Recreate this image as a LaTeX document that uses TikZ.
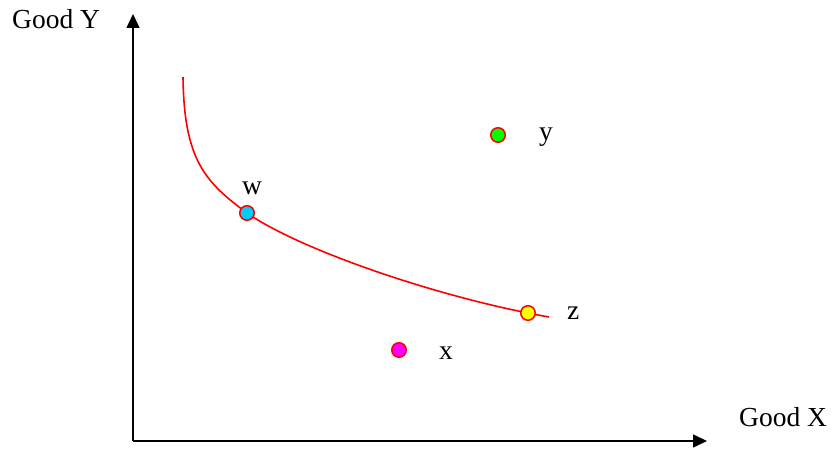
\documentclass[tikz,border=0pt]{standalone}
\usepackage{fontspec}
\setmainfont{Liberation Serif}
\usetikzlibrary{arrows.meta,positioning}

\definecolor{wblue}{RGB}{0,204,255}
\definecolor{ygreen}{RGB}{0,255,0}
\definecolor{zyellow}{RGB}{255,255,0}
\definecolor{xpink}{RGB}{255,0,255}

\begin{document}
\begin{tikzpicture}[
    x=1pt, y=1pt,
    axis/.style={-{Triangle[length=14pt, width=13pt]}, line width=1.5pt},
    dot/.style={draw=red, circle, line width=1.5pt, minimum size=14.5pt, inner sep=0pt},
    lbl/.style={inner sep=0pt, font=\fontsize{27.5}{33}\selectfont},
    curve/.style={red, line width=1.6pt}
]
\useasboundingbox (0,0) rectangle (835,450);

\coordinate (o) at (133,9);
\coordinate (ytip) at (133,436);
\coordinate (xtip) at (707,9);

\draw[axis] (o) -- (ytip);
\draw[axis] (o) -- (xtip);

\node[lbl, anchor=west] (goody) at (12,431) {Good Y};
\node[lbl, anchor=west] (goodx) at (739,33) {Good X};

% indifference curve
\coordinate (cstart) at (183,373);
\coordinate (cend) at (549,133);
\draw[curve] (cstart) .. controls (184,290) and (205,268) .. (247,237)
    .. controls (300,200) and (440,152) .. (cend);

\node[dot, fill=wblue] (w) at (247,237) {};
\node[dot, fill=zyellow] (z) at (528,137) {};
\node[dot, fill=ygreen] (y) at (498,315) {};
\node[dot, fill=xpink] (x) at (399,100) {};

\node[lbl, above=10pt of w, xshift=5pt] (wlbl) {w};
\node[lbl, right=31pt of z] (zlbl) {z};
\node[lbl, right=33pt of y, yshift=-2pt] (ylbl) {y};
\node[lbl, right=32pt of x, yshift=-3pt] (xlbl) {x};
\end{tikzpicture}
\end{document}
